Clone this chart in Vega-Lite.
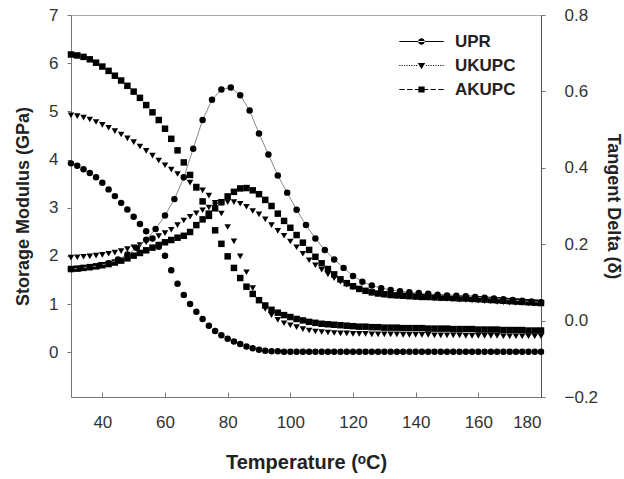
{
"$schema": "https://vega.github.io/schema/vega-lite/v6.json",
"width": 470, "height": 382,
"autosize": {"type": "none"},
"padding": {"left": 71, "top": 15, "right": 83, "bottom": 82},
"background": "white",
"config": {
 "view": {"stroke": "#aaa", "strokeWidth": 1},
 "font": "Liberation Sans",
 "axis": {"labelFont": "Liberation Sans", "titleFont": "Liberation Sans", "labelFontSize": 17, "labelColor": "#333", "titleFontSize": 19, "titleFontWeight": "bold", "titleColor": "#222", "grid": false, "domainColor": "#777", "tickColor": "#777", "tickSize": 4, "labelPadding": 8},
 "legend": {"labelFont": "Liberation Sans"},
 "point": {"filled": true, "opacity": 1, "size": 42, "color": "black"}
},
"datasets": {
 "sm": [
{"T":30,"UPR":3.92,"UKUPC":4.92,"AKUPC":6.18},
{"T":32,"UPR":3.87,"UKUPC":4.90,"AKUPC":6.16},
{"T":34,"UPR":3.80,"UKUPC":4.87,"AKUPC":6.13},
{"T":36,"UPR":3.72,"UKUPC":4.83,"AKUPC":6.08},
{"T":38,"UPR":3.63,"UKUPC":4.78,"AKUPC":6.01},
{"T":40,"UPR":3.52,"UKUPC":4.72,"AKUPC":5.93},
{"T":42,"UPR":3.38,"UKUPC":4.66,"AKUPC":5.84},
{"T":44,"UPR":3.24,"UKUPC":4.59,"AKUPC":5.74},
{"T":46,"UPR":3.10,"UKUPC":4.52,"AKUPC":5.64},
{"T":48,"UPR":2.96,"UKUPC":4.44,"AKUPC":5.53},
{"T":50,"UPR":2.81,"UKUPC":4.36,"AKUPC":5.41},
{"T":52,"UPR":2.66,"UKUPC":4.27,"AKUPC":5.28},
{"T":54,"UPR":2.51,"UKUPC":4.18,"AKUPC":5.13},
{"T":56,"UPR":2.36,"UKUPC":4.08,"AKUPC":4.98},
{"T":58,"UPR":2.19,"UKUPC":3.98,"AKUPC":4.82},
{"T":60,"UPR":2.00,"UKUPC":3.88,"AKUPC":4.64},
{"T":62,"UPR":1.70,"UKUPC":3.79,"AKUPC":4.43},
{"T":64,"UPR":1.42,"UKUPC":3.70,"AKUPC":4.19},
{"T":66,"UPR":1.19,"UKUPC":3.61,"AKUPC":3.94},
{"T":68,"UPR":1.00,"UKUPC":3.52,"AKUPC":3.68},
{"T":70,"UPR":0.84,"UKUPC":3.44,"AKUPC":3.42},
{"T":72,"UPR":0.69,"UKUPC":3.36,"AKUPC":3.13},
{"T":74,"UPR":0.55,"UKUPC":3.25,"AKUPC":2.83},
{"T":76,"UPR":0.44,"UKUPC":3.10,"AKUPC":2.53},
{"T":78,"UPR":0.35,"UKUPC":2.88,"AKUPC":2.25},
{"T":80,"UPR":0.28,"UKUPC":2.60,"AKUPC":1.99},
{"T":82,"UPR":0.22,"UKUPC":2.30,"AKUPC":1.75},
{"T":84,"UPR":0.17,"UKUPC":1.99,"AKUPC":1.54},
{"T":86,"UPR":0.12,"UKUPC":1.66,"AKUPC":1.36},
{"T":88,"UPR":0.08,"UKUPC":1.33,"AKUPC":1.21},
{"T":90,"UPR":0.05,"UKUPC":1.07,"AKUPC":1.08},
{"T":92,"UPR":0.03,"UKUPC":0.90,"AKUPC":0.97},
{"T":94,"UPR":0.02,"UKUPC":0.77,"AKUPC":0.88},
{"T":96,"UPR":0.02,"UKUPC":0.67,"AKUPC":0.82},
{"T":98,"UPR":0.01,"UKUPC":0.60,"AKUPC":0.77},
{"T":100,"UPR":0.01,"UKUPC":0.56,"AKUPC":0.73},
{"T":102,"UPR":0.01,"UKUPC":0.52,"AKUPC":0.69},
{"T":104,"UPR":0.01,"UKUPC":0.48,"AKUPC":0.66},
{"T":106,"UPR":0.01,"UKUPC":0.45,"AKUPC":0.63},
{"T":108,"UPR":0.01,"UKUPC":0.43,"AKUPC":0.61},
{"T":110,"UPR":0.01,"UKUPC":0.42,"AKUPC":0.59},
{"T":112,"UPR":0.01,"UKUPC":0.41,"AKUPC":0.58},
{"T":114,"UPR":0.01,"UKUPC":0.40,"AKUPC":0.57},
{"T":116,"UPR":0.01,"UKUPC":0.39,"AKUPC":0.56},
{"T":118,"UPR":0.01,"UKUPC":0.39,"AKUPC":0.55},
{"T":120,"UPR":0.01,"UKUPC":0.38,"AKUPC":0.54},
{"T":122,"UPR":0.01,"UKUPC":0.38,"AKUPC":0.53},
{"T":124,"UPR":0.01,"UKUPC":0.38,"AKUPC":0.53},
{"T":126,"UPR":0.01,"UKUPC":0.37,"AKUPC":0.52},
{"T":128,"UPR":0.01,"UKUPC":0.37,"AKUPC":0.52},
{"T":130,"UPR":0.01,"UKUPC":0.37,"AKUPC":0.51},
{"T":132,"UPR":0.01,"UKUPC":0.37,"AKUPC":0.51},
{"T":134,"UPR":0.01,"UKUPC":0.37,"AKUPC":0.51},
{"T":136,"UPR":0.01,"UKUPC":0.36,"AKUPC":0.50},
{"T":138,"UPR":0.01,"UKUPC":0.36,"AKUPC":0.50},
{"T":140,"UPR":0.01,"UKUPC":0.36,"AKUPC":0.50},
{"T":142,"UPR":0.01,"UKUPC":0.36,"AKUPC":0.50},
{"T":144,"UPR":0.01,"UKUPC":0.36,"AKUPC":0.49},
{"T":146,"UPR":0.01,"UKUPC":0.35,"AKUPC":0.49},
{"T":148,"UPR":0.01,"UKUPC":0.35,"AKUPC":0.49},
{"T":150,"UPR":0.01,"UKUPC":0.35,"AKUPC":0.49},
{"T":152,"UPR":0.01,"UKUPC":0.35,"AKUPC":0.48},
{"T":154,"UPR":0.01,"UKUPC":0.35,"AKUPC":0.48},
{"T":156,"UPR":0.01,"UKUPC":0.34,"AKUPC":0.48},
{"T":158,"UPR":0.01,"UKUPC":0.34,"AKUPC":0.48},
{"T":160,"UPR":0.01,"UKUPC":0.34,"AKUPC":0.47},
{"T":162,"UPR":0.01,"UKUPC":0.34,"AKUPC":0.47},
{"T":164,"UPR":0.01,"UKUPC":0.34,"AKUPC":0.47},
{"T":166,"UPR":0.01,"UKUPC":0.34,"AKUPC":0.47},
{"T":168,"UPR":0.01,"UKUPC":0.33,"AKUPC":0.46},
{"T":170,"UPR":0.01,"UKUPC":0.33,"AKUPC":0.46},
{"T":172,"UPR":0.01,"UKUPC":0.33,"AKUPC":0.46},
{"T":174,"UPR":0.01,"UKUPC":0.33,"AKUPC":0.46},
{"T":176,"UPR":0.01,"UKUPC":0.33,"AKUPC":0.45},
{"T":178,"UPR":0.01,"UKUPC":0.33,"AKUPC":0.45},
{"T":180,"UPR":0.01,"UKUPC":0.33,"AKUPC":0.45}
 ],
 "td": [
{"T":30,"UKUPC":0.165,"AKUPC":0.135},
{"T":32,"UKUPC":0.166,"AKUPC":0.136},
{"T":34,"UKUPC":0.167,"AKUPC":0.138},
{"T":36,"UKUPC":0.168,"AKUPC":0.140},
{"T":38,"UKUPC":0.170,"AKUPC":0.142},
{"T":40,"UKUPC":0.172,"AKUPC":0.145},
{"T":42,"UKUPC":0.175,"AKUPC":0.148},
{"T":44,"UKUPC":0.178,"AKUPC":0.152},
{"T":46,"UKUPC":0.182,"AKUPC":0.157},
{"T":48,"UKUPC":0.187,"AKUPC":0.163},
{"T":50,"UKUPC":0.192,"AKUPC":0.170},
{"T":52,"UKUPC":0.198,"AKUPC":0.177},
{"T":54,"UKUPC":0.205,"AKUPC":0.184},
{"T":56,"UKUPC":0.213,"AKUPC":0.191},
{"T":58,"UKUPC":0.221,"AKUPC":0.198},
{"T":60,"UKUPC":0.229,"AKUPC":0.205},
{"T":62,"UKUPC":0.238,"AKUPC":0.211},
{"T":64,"UKUPC":0.250,"AKUPC":0.217},
{"T":66,"UKUPC":0.262,"AKUPC":0.222},
{"T":68,"UKUPC":0.272,"AKUPC":0.232},
{"T":70,"UKUPC":0.281,"AKUPC":0.250},
{"T":72,"UKUPC":0.289,"AKUPC":0.265},
{"T":74,"UKUPC":0.296,"AKUPC":0.280},
{"T":76,"UKUPC":0.302,"AKUPC":0.294},
{"T":78,"UKUPC":0.307,"AKUPC":0.310},
{"T":80,"UKUPC":0.310,"AKUPC":0.325},
{"T":82,"UKUPC":0.310,"AKUPC":0.337},
{"T":84,"UKUPC":0.306,"AKUPC":0.346},
{"T":86,"UKUPC":0.298,"AKUPC":0.347},
{"T":88,"UKUPC":0.287,"AKUPC":0.341},
{"T":90,"UKUPC":0.278,"AKUPC":0.331},
{"T":92,"UKUPC":0.265,"AKUPC":0.316},
{"T":94,"UKUPC":0.250,"AKUPC":0.300},
{"T":96,"UKUPC":0.235,"AKUPC":0.280},
{"T":98,"UKUPC":0.222,"AKUPC":0.261},
{"T":100,"UKUPC":0.207,"AKUPC":0.243},
{"T":102,"UKUPC":0.192,"AKUPC":0.224},
{"T":104,"UKUPC":0.175,"AKUPC":0.204},
{"T":106,"UKUPC":0.158,"AKUPC":0.185},
{"T":108,"UKUPC":0.145,"AKUPC":0.167},
{"T":110,"UKUPC":0.133,"AKUPC":0.150},
{"T":112,"UKUPC":0.121,"AKUPC":0.135},
{"T":114,"UKUPC":0.111,"AKUPC":0.121},
{"T":116,"UKUPC":0.102,"AKUPC":0.108},
{"T":118,"UKUPC":0.094,"AKUPC":0.098},
{"T":120,"UKUPC":0.087,"AKUPC":0.090},
{"T":122,"UKUPC":0.081,"AKUPC":0.083},
{"T":124,"UKUPC":0.076,"AKUPC":0.078},
{"T":126,"UKUPC":0.072,"AKUPC":0.074},
{"T":128,"UKUPC":0.069,"AKUPC":0.071},
{"T":130,"UKUPC":0.067,"AKUPC":0.069},
{"T":132,"UKUPC":0.065,"AKUPC":0.067},
{"T":134,"UKUPC":0.064,"AKUPC":0.066},
{"T":136,"UKUPC":0.063,"AKUPC":0.065},
{"T":138,"UKUPC":0.062,"AKUPC":0.064},
{"T":140,"UKUPC":0.061,"AKUPC":0.063},
{"T":142,"UKUPC":0.060,"AKUPC":0.062},
{"T":144,"UKUPC":0.059,"AKUPC":0.062},
{"T":146,"UKUPC":0.058,"AKUPC":0.061},
{"T":148,"UKUPC":0.058,"AKUPC":0.060},
{"T":150,"UKUPC":0.057,"AKUPC":0.060},
{"T":152,"UKUPC":0.056,"AKUPC":0.059},
{"T":154,"UKUPC":0.055,"AKUPC":0.058},
{"T":156,"UKUPC":0.054,"AKUPC":0.058},
{"T":158,"UKUPC":0.053,"AKUPC":0.057},
{"T":160,"UKUPC":0.052,"AKUPC":0.056},
{"T":162,"UKUPC":0.051,"AKUPC":0.055},
{"T":164,"UKUPC":0.050,"AKUPC":0.054},
{"T":166,"UKUPC":0.049,"AKUPC":0.053},
{"T":168,"UKUPC":0.048,"AKUPC":0.052},
{"T":170,"UKUPC":0.047,"AKUPC":0.051},
{"T":172,"UKUPC":0.046,"AKUPC":0.050},
{"T":174,"UKUPC":0.046,"AKUPC":0.049},
{"T":176,"UKUPC":0.045,"AKUPC":0.048},
{"T":178,"UKUPC":0.044,"AKUPC":0.047},
{"T":180,"UKUPC":0.044,"AKUPC":0.046}
 ],
 "tdupr": [
{"T":30,"UPR":0.135},{"T":33,"UPR":0.137},{"T":36,"UPR":0.140},{"T":39,"UPR":0.144},
{"T":42,"UPR":0.150},{"T":45,"UPR":0.160},{"T":48,"UPR":0.173},{"T":51,"UPR":0.190},
{"T":54,"UPR":0.212},{"T":57,"UPR":0.240},{"T":60,"UPR":0.275},{"T":63,"UPR":0.318},
{"T":66,"UPR":0.375},{"T":69,"UPR":0.450},{"T":72,"UPR":0.525},{"T":75,"UPR":0.578},
{"T":78,"UPR":0.605},{"T":81,"UPR":0.610},{"T":84,"UPR":0.590},{"T":87,"UPR":0.550},
{"T":90,"UPR":0.490},{"T":93,"UPR":0.435},{"T":96,"UPR":0.380},{"T":99,"UPR":0.335},
{"T":102,"UPR":0.290},{"T":105,"UPR":0.250},{"T":108,"UPR":0.215},{"T":111,"UPR":0.185},
{"T":114,"UPR":0.160},{"T":117,"UPR":0.138},{"T":120,"UPR":0.117},{"T":123,"UPR":0.102},
{"T":126,"UPR":0.092},{"T":129,"UPR":0.085},{"T":132,"UPR":0.080},{"T":135,"UPR":0.077},
{"T":138,"UPR":0.074},{"T":141,"UPR":0.072},{"T":144,"UPR":0.070},{"T":147,"UPR":0.068},
{"T":150,"UPR":0.066},{"T":153,"UPR":0.065},{"T":156,"UPR":0.064},{"T":159,"UPR":0.062},
{"T":162,"UPR":0.060},{"T":165,"UPR":0.058},{"T":168,"UPR":0.056},{"T":171,"UPR":0.054},
{"T":174,"UPR":0.052},{"T":177,"UPR":0.050},{"T":180,"UPR":0.048}
 ]
},
"layer": [
 {
  "data": {"name": "sm"},
  "mark": {"type": "point", "shape": "circle"},
  "encoding": {
   "x": {"field": "T", "type": "quantitative", "scale": {"domain": [30, 180], "nice": false, "zero": false},
     "axis": {"values": [40, 60, 80, 100, 120, 140, 160, 180], "title": "Temperature (ᵒC)", "titleFontSize": 20, "tickSize": -5, "labelPadding": 22, "titlePadding": 22}},
   "y": {"field": "UPR", "type": "quantitative", "scale": {"domain": [-0.93, 7], "nice": false, "zero": false},
     "axis": {"orient": "left", "values": [0, 1, 2, 3, 4, 5, 6, 7], "title": "Storage Modulus (GPa)", "titleFontSize": 18, "titlePadding": 16, "labelPadding": 9}}
  }
 },
 {
  "data": {"name": "sm"},
  "mark": {"type": "point", "shape": "triangle-down"},
  "encoding": {
   "x": {"field": "T", "type": "quantitative"},
   "y": {"field": "UKUPC", "type": "quantitative", "scale": {"domain": [-0.93, 7], "nice": false, "zero": false}, "axis": null}
  }
 },
 {
  "data": {"name": "sm"},
  "mark": {"type": "point", "shape": "square"},
  "encoding": {
   "x": {"field": "T", "type": "quantitative"},
   "y": {"field": "AKUPC", "type": "quantitative", "scale": {"domain": [-0.93, 7], "nice": false, "zero": false}, "axis": null}
  }
 },
 {
  "data": {"name": "td"},
  "mark": {"type": "point", "shape": "triangle-down"},
  "encoding": {
   "x": {"field": "T", "type": "quantitative"},
   "y": {"field": "UKUPC", "type": "quantitative", "scale": {"domain": [-0.2, 0.8], "nice": false, "zero": false},
     "axis": {"orient": "right", "values": [-0.2, 0, 0.2, 0.4, 0.6, 0.8], "format": ".1f", "title": "Tangent Delta (δ)", "titleFontSize": 18, "titlePadding": 6, "labelPadding": 19, "domainColor": "#555"}}
  }
 },
 {
  "data": {"name": "td"},
  "mark": {"type": "point", "shape": "square"},
  "encoding": {
   "x": {"field": "T", "type": "quantitative"},
   "y": {"field": "AKUPC", "type": "quantitative", "scale": {"domain": [-0.2, 0.8], "nice": false, "zero": false}, "axis": null}
  }
 },
 {
  "data": {"name": "tdupr"},
  "mark": {"type": "line", "color": "#888", "strokeWidth": 1},
  "encoding": {
   "x": {"field": "T", "type": "quantitative"},
   "y": {"field": "UPR", "type": "quantitative", "scale": {"domain": [-0.2, 0.8], "nice": false, "zero": false}, "axis": null}
  }
 },
 {
  "data": {"name": "tdupr"},
  "mark": {"type": "point", "shape": "circle"},
  "encoding": {
   "x": {"field": "T", "type": "quantitative"},
   "y": {"field": "UPR", "type": "quantitative", "scale": {"domain": [-0.2, 0.8], "nice": false, "zero": false}, "axis": null}
  }
 },
 {
  "data": {"name": "sm"},
  "transform": [{"fold": ["UPR", "UKUPC", "AKUPC"], "as": ["series", "value"]}],
  "mark": {"type": "point", "opacity": 0},
  "encoding": {
   "x": {"field": "T", "type": "quantitative"},
   "y": {"field": "value", "type": "quantitative", "scale": {"domain": [-0.93, 7], "nice": false, "zero": false}, "axis": null},
   "shape": {"field": "series", "type": "nominal",
     "scale": {"domain": ["UPR", "UKUPC", "AKUPC"], "range": [
       "M-3.7,-0.08L3.7,-0.08L3.7,0.08L-3.7,0.08ZM-0.55,0A0.55,0.55 0 1,0 0.55,0A0.55,0.55 0 1,0 -0.55,0Z",
       "M-3.7,-0.07L-3.53,-0.07L-3.53,0.07L-3.7,0.07ZM-3.3,-0.07L-3.13,-0.07L-3.13,0.07L-3.3,0.07ZM-2.9,-0.07L-2.73,-0.07L-2.73,0.07L-2.9,0.07ZM-2.5,-0.07L-2.33,-0.07L-2.33,0.07L-2.5,0.07ZM-2.1,-0.07L-1.93,-0.07L-1.93,0.07L-2.1,0.07ZM-1.7,-0.07L-1.53,-0.07L-1.53,0.07L-1.7,0.07ZM-1.3,-0.07L-1.13,-0.07L-1.13,0.07L-1.3,0.07ZM-0.9,-0.07L-0.73,-0.07L-0.73,0.07L-0.9,0.07ZM0.73,-0.07L0.9,-0.07L0.9,0.07L0.73,0.07ZM1.13,-0.07L1.3,-0.07L1.3,0.07L1.13,0.07ZM1.53,-0.07L1.7,-0.07L1.7,0.07L1.53,0.07ZM1.93,-0.07L2.1,-0.07L2.1,0.07L1.93,0.07ZM2.33,-0.07L2.5,-0.07L2.5,0.07L2.33,0.07ZM2.73,-0.07L2.9,-0.07L2.9,0.07L2.73,0.07ZM3.13,-0.07L3.3,-0.07L3.3,0.07L3.13,0.07ZM3.53,-0.07L3.7,-0.07L3.7,0.07L3.53,0.07ZM-0.62,-0.42L0.62,-0.42L0,0.62Z",
       "M-3.7,-0.08L-2.8,-0.08L-2.8,0.08L-3.7,0.08ZM-2.4,-0.08L-1.5,-0.08L-1.5,0.08L-2.4,0.08ZM-1.1,-0.08L1.1,-0.08L1.1,0.08L-1.1,0.08ZM1.5,-0.08L2.4,-0.08L2.4,0.08L1.5,0.08ZM2.8,-0.08L3.7,-0.08L3.7,0.08L2.8,0.08ZM-0.52,-0.52L0.52,-0.52L0.52,0.52L-0.52,0.52Z"]},
     "legend": {"orient": "none", "legendX": 342, "legendY": 18, "title": null, "padding": 0,
       "symbolSize": 144, "symbolFillColor": "black", "symbolOpacity": 1,
       "labelFontSize": 17, "labelFontWeight": "bold", "labelColor": "#222",
       "labelOffset": 25, "rowPadding": 6,
       "encode": {"symbols": {"update": {"fill": {"value": "black"}, "opacity": {"value": 1}}}}}}
  }
 }
],
"resolve": {"scale": {"y": "independent"}}
}
